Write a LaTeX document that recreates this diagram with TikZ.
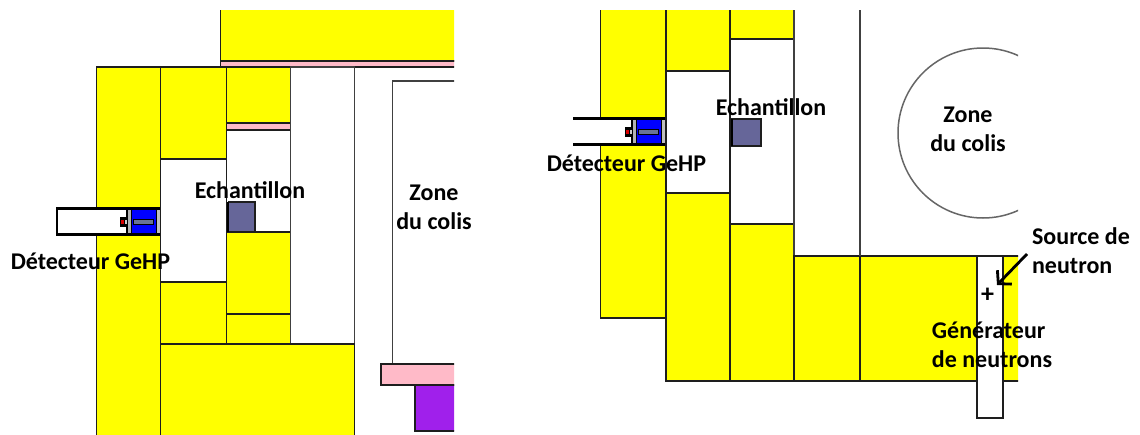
\documentclass[tikz,border=0pt]{standalone}
\usepackage{fontspec}
\usetikzlibrary{arrows.meta}
\setmainfont{Carlito}
\definecolor{yel}{RGB}{255,255,0}
\definecolor{rose}{RGB}{255,186,200}
\definecolor{purp}{RGB}{160,32,235}
\definecolor{samp}{RGB}{102,102,153}
\definecolor{blu}{RGB}{0,0,255}
\definecolor{rodc}{RGB}{105,115,150}
\definecolor{edge}{RGB}{30,30,30}
\tikzset{
  part/.style={draw=edge,line width=1.7pt},
  ybox/.style={part,fill=yel},
  pbox/.style={part,fill=rose},
  wbox/.style={part,fill=white},
  thin part/.style={draw=black!75,line width=1.7pt},
  sample/.style={draw=edge,line width=1.6pt,fill=samp},
  lab/.style={font=\bfseries\fontsize{24}{29}\selectfont,align=center,text=black,inner sep=0pt},
  det wall/.style={draw=black,line width=2.8pt}
}
\newcommand{\detector}[3]{%
  \begin{scope}[shift={(#1,#2)}]
    \fill[white] (#3,3) rectangle (131,26);
    \draw[det wall] (130,1.5) -- (160,1.5);
    \draw[det wall] (130,27.5) -- (160,27.5);
    \fill[black!30] (126,3) rectangle (131,26);
    \draw[black,line width=1.2pt] (127,3) -- (127,26);
    \draw[black,line width=1.2pt] (131.5,3) -- (131.5,26);
    \fill[blu] (132,3) rectangle (156,26);
    \draw[black,line width=1pt] (156.5,3) -- (156.5,26);
    \fill[black!25] (157,3) rectangle (159.5,26);
    \draw[black,line width=.8pt,fill=rodc] (133,12.5) rectangle (153,17);
    \fill[black] (119.5,9.5) rectangle (126,20);
    \fill[red!85!black] (121,12.5) rectangle (123.5,16.5);
    \fill[black!20] (124.5,12.5) rectangle (127,16.5);
  \end{scope}
}
\begin{document}
\begin{tikzpicture}[x=1pt,y=-1pt]
\useasboundingbox (0,0) rectangle (1140,434);
\fill[white] (0,0) rectangle (1140,434);
% ---- left panel
\begin{scope}
  \clip (90,10) rectangle (454,434);
  \path[ybox] (220.5,5) rectangle (470,61);
  \path[pbox] (220.5,61) rectangle (470,67);
  \path[ybox] (96.5,67) rectangle (160.5,440);
  \path[ybox] (160.5,67) rectangle (226.5,159);
  \path[wbox] (160.5,159) rectangle (226.5,282);
  \path[ybox] (160.5,282) rectangle (226.5,344);
  \path[ybox] (226.5,67) rectangle (290.5,123);
  \path[pbox] (226.5,123) rectangle (290.5,130);
  \path[wbox] (226.5,130) rectangle (290.5,232);
  \path[ybox] (226.5,232) rectangle (290.5,314);
  \path[ybox] (226.5,314) rectangle (290.5,344);
  \path[thin part,fill=white] (290.5,67) rectangle (354.5,344);
  \path[ybox] (160.5,344) rectangle (354.5,440);
  \draw[thin part] (392.5,364) -- (392.5,81) -- (470,81);
  \path[pbox] (381,364) rectangle (470,385);
  \path[part,fill=purp] (415,385) rectangle (470,431);
  \path[sample] (228.5,202) rectangle (255,232);
\end{scope}
\draw[black,line width=2pt] (227.5,202) -- (227.5,232);
\detector{0}{207}{57}
\draw[det wall] (131,208.5) -- (57,208.5) -- (57,234.5) -- (131,234.5);
% ---- right panel
\begin{scope}
  \clip (590,10) rectangle (1018,434);
  \path[ybox] (600.5,0) rectangle (666,318);
  \path[ybox] (666,0) rectangle (730,71);
  \path[wbox] (666,71) rectangle (730,193);
  \path[ybox] (666,193) rectangle (730,381);
  \path[ybox] (730,0) rectangle (794,39);
  \path[wbox] (730,39) rectangle (794,224);
  \path[ybox] (730,224) rectangle (794,381);
  \path[thin part,fill=white] (794,0) rectangle (860,256);
  \path[ybox] (794,256) rectangle (860,381);
  \path[ybox] (860,256) rectangle (1030,381);
  \draw[thin part] (860,0) -- (860,256);
  \path[wbox] (977,256) rectangle (1003,418);
  \draw[draw=black!60,line width=1.5pt] (983,133) circle (85);
  \path[sample] (732,119) rectangle (761,146);
\end{scope}
\draw[black,line width=2pt] (731.5,119) -- (731.5,146);
\detector{505}{117}{68}
\draw[det wall] (573,118.5) -- (636,118.5);
\draw[det wall] (573,144.5) -- (636,144.5);
% ---- labels
\node[lab,anchor=base] (ech1) at (250,198) {Echantillon};
\node[lab,anchor=base] (det1) at (90.5,269) {Détecteur GeHP};
\node[lab] (zone1) at (434,207) {Zone\\du colis};
\node[lab,anchor=base] (ech2) at (771,115) {Echantillon};
\node[lab,anchor=base] (det2) at (626.5,171) {Détecteur GeHP};
\node[lab] (zone2) at (968,129) {Zone\\du colis};
\node[lab,align=left] (src) at (1081,251) {Source de\\neutron};
\node[lab,align=left] (gen) at (992,345) {Générateur\\de neutrons};
\node[inner sep=0pt,font=\bfseries\fontsize{26}{26}\selectfont] (plus) at (987.5,295) {+};
\coordinate (arrow start) at (1027,254);
\coordinate (arrow end) at (997,285);
\draw[black,line width=2.8pt,-{Straight Barb[length=9pt,width=20pt]}] (arrow start) -- (arrow end);
\end{tikzpicture}
\end{document}
